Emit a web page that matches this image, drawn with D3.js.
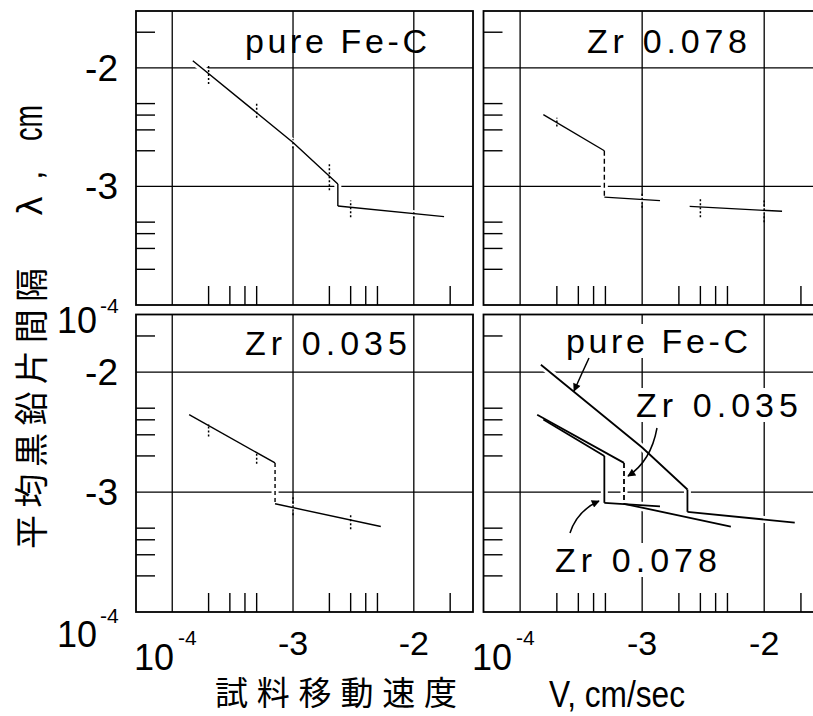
<!DOCTYPE html>
<html><head><meta charset="utf-8">
<script src="https://cdn.jsdelivr.net/npm/d3@7"></script>
<style>body{margin:0;background:#fff}svg{display:block}</style>
</head><body><svg id="c" width="813" height="716"></svg>
<script>
// ---------------- data ----------------
const majorV = [1e-4, 1e-3, 1e-2];
const minorV = [2e-4, 3e-4, 4e-4, 5e-4, 2e-3, 3e-3, 4e-3, 5e-3, 2e-2];
const majorL = [1e-3, 1e-2];
const minorL = [2e-4, 3e-4, 4e-4, 5e-4, 2e-3, 3e-3, 4e-3, 5e-3, 2e-2];
const xTickLabels = ["-3", "-2"];
const yTickLabels = ["-3", "-2"];

// pure Fe-C
const pureUpperV = [1.48e-4, 1.0e-3, 2.35e-3];
const pureUpperL = [1.15e-2, 2.35e-3, 1.05e-3];
const pureLowerV = [2.35e-3, 1.78e-2];
const pureLowerL = [6.84e-4, 5.56e-4];
const pureBarV  = [2e-4, 5e-4, 1e-3, 2e-3, 3e-3, 1e-2];
const pureBarLo = [7.3e-3, 3.8e-3, 2.1e-3, 9.3e-4, 5.5e-4, 5.4e-4];
const pureBarHi = [1.08e-2, 5.0e-3, 2.5e-3, 1.6e-3, 7.6e-4, 6.3e-4];

// Zr 0.078
const z78UpperV = [1.55e-4, 4.9e-4];
const z78UpperL = [4.03e-3, 2.0e-3];
const z78LowerV = [4.9e-4, 1.4e-3];
const z78LowerL = [8.13e-4, 7.59e-4];
const z78TailV  = [2.45e-3, 1.4e-2];
const z78TailL  = [6.79e-4, 6.17e-4];
const z78BarV  = [2e-4, 1e-3, 3e-3, 1e-2];
const z78BarLo = [3.2e-3, 6.6e-4, 5.5e-4, 5.0e-4];
const z78BarHi = [3.8e-3, 8.7e-4, 7.9e-4, 7.6e-4];

// Zr 0.035
const z35UpperV = [1.38e-4, 7.1e-4];
const z35UpperL = [4.41e-3, 1.75e-3];
const z35LowerV = [7.1e-4, 5.33e-3];
const z35LowerL = [7.98e-4, 5.16e-4];
const z35BarV  = [2e-4, 5e-4, 1e-3, 3e-3];
const z35BarLo = [2.9e-3, 1.72e-3, 6.4e-4, 4.9e-4];
const z35BarHi = [3.7e-3, 2.17e-3, 9.4e-4, 6.6e-4];

// ---------------- layout ----------------
const svg = d3.select('#c');
const FONT = "'Liberation Sans', Arial, sans-serif";
const CJK = "'Noto Sans CJK JP', 'Noto Sans CJK SC', sans-serif";
const xDom = [Math.pow(10, -4.3), Math.pow(10, -1.51)];
const yDom = [1e-4, Math.pow(10, -1.52)];
const colRanges = [[136, 473], [483.5, 824]];
const rowRanges = [[305, 11], [612, 314.5]];
const xs = colRanges.map(r => d3.scaleLog().domain(xDom).range(r));
const ys = rowRanges.map(r => d3.scaleLog().domain(yDom).range(r));

const pts = (V, L) => V.map((v, i) => [v, L[i]]);
const seg = (V, L, dash) => ({p: pts(V, L), dash});
const drop = (UV, UL, LV, LL, dash) => ({p: [[UV[UV.length-1], UL[UL.length-1]], [LV[0], LL[0]]], dash});

const panels = [
  {c:0, r:0, lw:1.4,
   segs:[seg(pureUpperV, pureUpperL), drop(pureUpperV, pureUpperL, pureLowerV, pureLowerL), seg(pureLowerV, pureLowerL)],
   bars:{V:pureBarV, lo:pureBarLo, hi:pureBarHi},
   labels:[{t:'pure Fe-C', x:245, y:53, w:182}]},
  {c:1, r:0, lw:1.4,
   segs:[seg(z78UpperV, z78UpperL), drop(z78UpperV, z78UpperL, z78LowerV, z78LowerL, '5,3'), seg(z78LowerV, z78LowerL), seg(z78TailV, z78TailL)],
   bars:{V:z78BarV, lo:z78BarLo, hi:z78BarHi},
   labels:[{t:'Zr 0.078', x:587, y:53, w:160}]},
  {c:0, r:1, lw:1.4,
   segs:[seg(z35UpperV, z35UpperL), drop(z35UpperV, z35UpperL, z35LowerV, z35LowerL, '4,3'), seg(z35LowerV, z35LowerL)],
   bars:{V:z35BarV, lo:z35BarLo, hi:z35BarHi},
   labels:[{t:'Zr 0.035', x:245, y:355, w:162}]},
  {c:1, r:1, lw:1.8,
   segs:[seg(pureUpperV, pureUpperL), drop(pureUpperV, pureUpperL, pureLowerV, pureLowerL), seg(pureLowerV, pureLowerL),
         seg(z78UpperV, z78UpperL), drop(z78UpperV, z78UpperL, z78LowerV, z78LowerL), seg(z78LowerV, z78LowerL),
         seg(z35UpperV, z35UpperL), drop(z35UpperV, z35UpperL, z35LowerV, z35LowerL, '5,3'), seg(z35LowerV, z35LowerL)],
   bars:null,
   labels:[{t:'pure Fe-C', x:566, y:353, w:182, bg:true},
           {t:'Zr 0.035', x:636, y:417, w:162, bg:true},
           {t:'Zr 0.078', x:555, y:572, w:162, bg:true}],
   arrows:[{d:[[589,358],[582,373],[574,391]]},
           {d:[[657,428],[651,461],[628,476]]},
           {d:[[570,533],[577,511],[599,501]]}]}
];

// arrow marker
svg.append('defs').append('marker')
  .attr('id', 'ah').attr('viewBox', '0 0 10 10').attr('refX', 9).attr('refY', 5)
  .attr('markerWidth', 10).attr('markerHeight', 8).attr('markerUnits', 'userSpaceOnUse')
  .attr('orient', 'auto')
  .append('path').attr('d', 'M0,0 L10,5 L0,10 Z').attr('fill', '#000');

panels.forEach(P => {
  const x = xs[P.c], y = ys[P.r];
  const g = svg.append('g');
  const X0 = x.range()[0], X1 = x.range()[1], Ybot = y.range()[0], Ytop = y.range()[1];

  // gridlines
  g.selectAll('.vg').data(majorV).join('line')
    .attr('x1', d => x(d)).attr('x2', d => x(d)).attr('y1', Ytop).attr('y2', Ybot)
    .attr('stroke', '#000').attr('stroke-width', 1.3);
  g.selectAll('.hg').data(majorL).join('line')
    .attr('x1', X0).attr('x2', X1).attr('y1', d => y(d)).attr('y2', d => y(d))
    .attr('stroke', '#000').attr('stroke-width', 1.3);
  // minor ticks
  g.selectAll('.mx').data(minorV).join('line')
    .attr('x1', d => x(d)).attr('x2', d => x(d)).attr('y1', Ybot).attr('y2', Ybot - 19)
    .attr('stroke', '#000').attr('stroke-width', 1.4);
  g.selectAll('.my').data(minorL).join('line')
    .attr('y1', d => y(d)).attr('y2', d => y(d)).attr('x1', X0).attr('x2', X0 + 19)
    .attr('stroke', '#000').attr('stroke-width', 1.4);
  // frame
  g.append('rect').attr('x', X0).attr('y', Ytop).attr('width', X1 - X0).attr('height', Ybot - Ytop)
    .attr('fill', 'none').attr('stroke', '#000').attr('stroke-width', 1.8);

  const line = d3.line().x(d => x(d[0])).y(d => y(d[1]));
  // halos
  g.selectAll('.halo').data(P.segs).join('path')
    .attr('d', d => line(d.p)).attr('fill', 'none').attr('stroke', '#fff').attr('stroke-width', 7);
  // data lines
  g.selectAll('.dl').data(P.segs).join('path')
    .attr('d', d => line(d.p)).attr('fill', 'none').attr('stroke', '#000')
    .attr('stroke-width', P.lw).attr('stroke-dasharray', d => d.dash || null);
  // scatter bars
  if (P.bars) {
    const b = P.bars.V.map((v, i) => [v, P.bars.lo[i], P.bars.hi[i]]);
    g.selectAll('.eb').data(b).join('line')
      .attr('x1', d => x(d[0])).attr('x2', d => x(d[0]))
      .attr('y1', d => y(d[1])).attr('y2', d => y(d[2]))
      .attr('stroke', '#000').attr('stroke-width', 1.5).attr('stroke-dasharray', '2,2');
  }
  // labels
  P.labels.forEach(L => {
    const t = g.append('text').attr('x', L.x).attr('y', L.y).text(L.t)
      .attr('font-family', FONT).attr('font-size', 34)
      .attr('textLength', L.w).attr('lengthAdjust', 'spacing').attr('fill', '#000');
    if (L.bg) {
      const bb = t.node().getBBox();
      g.insert('rect', () => t.node()).attr('x', bb.x - 3).attr('y', bb.y + 2)
        .attr('width', bb.width + 6).attr('height', bb.height - 4).attr('fill', '#fff');
    }
  });
  // arrows
  (P.arrows || []).forEach(A => {
    const [s, c, e] = A.d;
    g.append('path').attr('d', `M${s[0]},${s[1]} Q${c[0]},${c[1]} ${e[0]},${e[1]}`)
      .attr('fill', 'none').attr('stroke', '#000').attr('stroke-width', 1.5)
      .attr('marker-end', 'url(#ah)');
  });
});

// ---------------- axis tick labels ----------------
// y axis
const yTenBase = [[333, 313], [647, 623]];
ys.forEach((y, r) => {
  [1e-3, 1e-2].forEach((v, i) => {
    svg.append('text').attr('x', 118).attr('y', y(v) + 13).attr('text-anchor', 'end')
      .attr('font-family', FONT).attr('font-size', 37).text(yTickLabels[i]);
  });
  svg.append('text').attr('x', 97).attr('y', yTenBase[r][0]).attr('text-anchor', 'end')
    .attr('font-family', FONT).attr('font-size', 36).text('10');
  svg.append('text').attr('x', 100).attr('y', yTenBase[r][1])
    .attr('font-family', FONT).attr('font-size', 21).text('-4');
});
// x axis
const xTenEnd = [174, 512];
xs.forEach((x, c) => {
  [1e-3, 1e-2].forEach((v, i) => {
    svg.append('text').attr('x', x(v)).attr('y', 655).attr('text-anchor', 'middle')
      .attr('font-family', FONT).attr('font-size', 34).text(xTickLabels[i]);
  });
  svg.append('text').attr('x', xTenEnd[c]).attr('y', 670).attr('text-anchor', 'end')
    .attr('font-family', FONT).attr('font-size', 36).text('10');
  svg.append('text').attr('x', xTenEnd[c] + 4).attr('y', 645)
    .attr('font-family', FONT).attr('font-size', 21).text('-4');
});

// ---------------- axis titles ----------------
svg.append('text').attr('x', 215).attr('y', 705).attr('font-family', CJK).attr('font-size', 33)
  .attr('textLength', 242).attr('lengthAdjust', 'spacing').text('試料移動速度');
svg.append('text').attr('x', 549).attr('y', 707).attr('font-family', FONT).attr('font-size', 37)
  .attr('textLength', 136).attr('lengthAdjust', 'spacingAndGlyphs').text('V, cm/sec');

const yl = svg.append('g');
yl.append('text').attr('transform', 'translate(44,549) rotate(-90)')
  .attr('font-family', CJK).attr('font-size', 34)
  .attr('textLength', 281).attr('lengthAdjust', 'spacing').text('平均黒鉛片間隔');
yl.append('text').attr('transform', 'translate(42,216) rotate(-90)')
  .attr('font-family', "'DejaVu Sans', sans-serif").attr('font-size', 34).text('λ');
yl.append('text').attr('transform', 'translate(42,180) rotate(-90)')
  .attr('font-family', FONT).attr('font-size', 34).text(',');
yl.append('text').attr('transform', 'translate(42,141) rotate(-90)')
  .attr('font-family', FONT).attr('font-size', 40)
  .attr('textLength', 36).attr('lengthAdjust', 'spacingAndGlyphs').text('cm');
</script>
</body></html>
